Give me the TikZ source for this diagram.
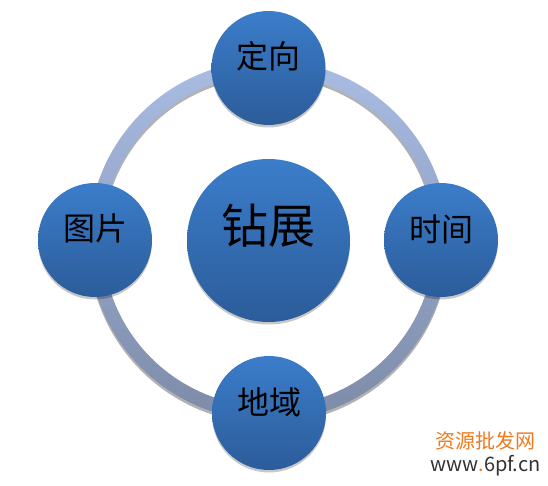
\documentclass[tikz,border=0pt]{standalone}
\usepackage{fontspec}
\newfontfamily\cjk{Noto Sans CJK SC}
\definecolor{topblue}{HTML}{3B7DCA}
\definecolor{botblue}{HTML}{2C5C9A}
\definecolor{ringtop}{HTML}{A9BCE3}
\definecolor{ringbot}{HTML}{7D8BA8}
\definecolor{wmorange}{HTML}{F07A1E}
\definecolor{wmgray}{HTML}{333333}
\begin{document}
\begin{tikzpicture}[x=1pt,y=-1pt,
  bubble/.style={circle, inner sep=0pt, draw=none, top color=topblue, bottom color=botblue},
  smallbubble/.style={bubble, minimum size=114pt},
  bigbubble/.style={bubble, minimum size=163pt},
  shadowfill/.style={fill=black, opacity=0.22},
  lbl/.style={font=\cjk\fontsize{32}{32}\selectfont, text=black, inner sep=0pt},
  biglbl/.style={font=\cjk\fontsize{47}{47}\selectfont, text=black, inner sep=0pt},
  wmstyle/.style={font=\cjk\fontsize{20}{20}\selectfont, inner sep=0pt}]
\useasboundingbox (0,0) rectangle (548,486);
\fill[white] (0,0) rectangle (548,486);
\coordinate (O) at (268.5,240.5);
\coordinate (pT) at (268.5,68);
\coordinate (pR) at (441,240);
\coordinate (pB) at (269,413);
\coordinate (pL) at (95,240);
% ring shadow and ring
\fill[black, opacity=0.3, even odd rule] ([yshift=-3pt]O) circle (180pt) ([yshift=-3pt]O) circle (166pt);
\shade[top color=ringtop, bottom color=ringbot, even odd rule] (O) circle (180pt) (O) circle (166pt);
% circle shadows
\foreach \p in {pT,pR,pB,pL} {\fill[shadowfill] ([yshift=-2.5pt]\p) circle (57pt);}
\fill[shadowfill] ([yshift=-2.5pt]O) circle (81.5pt);
% circles
\node[bigbubble] (ctr) at (O) {};
\node[smallbubble] (top) at (pT) {};
\node[smallbubble] (right) at (pR) {};
\node[smallbubble] (bottom) at (pB) {};
\node[smallbubble] (left) at (pL) {};
% labels
\node[biglbl] (ctrt) at ([yshift=15pt]ctr.center) {钻展};
\node[lbl] (topt) at ([yshift=12pt]top.center) {定向};
\node[lbl] (rightt) at ([yshift=11pt]right.center) {时间};
\node[lbl] (bottomt) at ([yshift=11pt]bottom.center) {地域};
\node[lbl] (leftt) at ([yshift=12pt]left.center) {图片};
% watermark
\node[wmstyle, text=wmorange] (wm1) at (485.5,441) {资源批发网};
\node[wmstyle, text=wmgray] (wm2) at (485.5,466) {www\textcolor{wmorange}{.}6pf.cn};
\end{tikzpicture}
\end{document}
